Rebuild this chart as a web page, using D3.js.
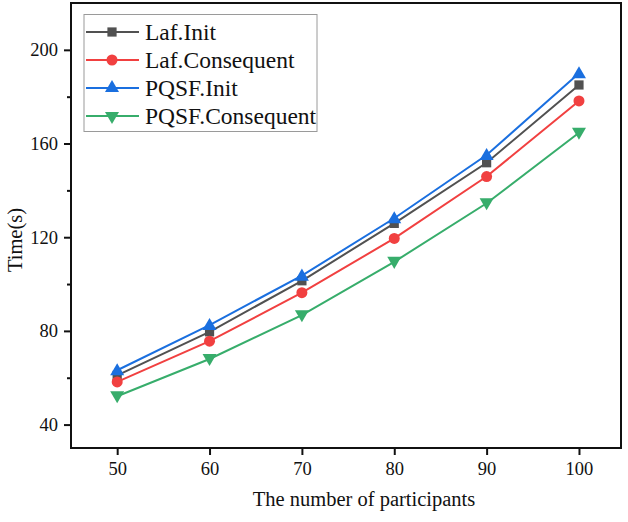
<!DOCTYPE html>
<html><head><meta charset="utf-8">
<script src="https://cdn.jsdelivr.net/npm/d3@7"></script>
<style>body{margin:0;background:#fff}svg text{font-family:"Liberation Serif","Times New Roman",serif;fill:#111}</style>
</head><body><svg id="c" width="628" height="522"></svg>
<script>
const participants = [50, 60, 70, 80, 90, 100];
const lafInit = [61, 79.6, 101.4, 125.9, 151.8, 185];
const lafConsequent = [58.2, 75.6, 96.3, 119.5, 145.9, 178.2];
const pqsfInit = [63.2, 82.5, 103.6, 128.1, 155.1, 190];
const pqsfConsequent = [52.1, 68, 86.7, 109.5, 134.5, 164.6];
const seriesNames = ["Laf.Init", "Laf.Consequent", "PQSF.Init", "PQSF.Consequent"];
const xTicks = [50, 60, 70, 80, 90, 100];
const yTicks = [40, 80, 120, 160, 200];
const yMinorTicks = [60, 100, 140, 180];

const series = [
  {name: seriesNames[0], values: lafInit, color: "#515151", sym: d3.symbolSquare, size: 85, rot: 0},
  {name: seriesNames[1], values: lafConsequent, color: "#F14040", sym: d3.symbolCircle, size: 95, rot: 0},
  {name: seriesNames[2], values: pqsfInit, color: "#1A6FDF", sym: d3.symbolTriangle, size: 85, rot: 0},
  {name: seriesNames[3], values: pqsfConsequent, color: "#37AD6B", sym: d3.symbolTriangle, size: 85, rot: 180}
];

const svg = d3.select("#c");
const L = 71, R = 621, T = 3, B = 448;
const x = d3.scaleLinear().domain([45, 104.55]).range([L, R]);
const y = d3.scaleLinear().domain([30, 220]).range([B, T]);

// axes
const xAxis = svg.append("g").attr("transform", `translate(0,${B})`)
  .call(d3.axisBottom(x).tickValues(xTicks).tickSize(7).tickPadding(7).tickSizeOuter(0));
const yAxis = svg.append("g").attr("transform", `translate(${L},0)`)
  .call(d3.axisLeft(y).tickValues(yTicks).tickSize(7).tickPadding(6).tickSizeOuter(0));
svg.append("g").attr("transform", `translate(${L},0)`)
  .call(d3.axisLeft(y).tickValues(yMinorTicks).tickSize(4).tickFormat("").tickSizeOuter(0))
  .select(".domain").remove();
svg.selectAll(".tick line").attr("stroke", "#111").attr("stroke-width", 2);
svg.selectAll(".domain").remove();
[xAxis, yAxis].forEach(a => a.selectAll("text").attr("font-size", 18.5).style("font-family", '"Liberation Serif", serif').attr("fill", "#111"));

svg.append("rect").attr("x", L).attr("y", T).attr("width", R - L).attr("height", B - T)
  .attr("fill", "none").attr("stroke", "#111").attr("stroke-width", 2);

// lines
const line = d3.line().x((d, i) => x(participants[i])).y(d => y(d));
series.forEach(s => {
  svg.append("path").datum(s.values).attr("d", line).attr("fill", "none")
    .attr("stroke", s.color).attr("stroke-width", 2);
});
series.forEach(s => {
  svg.selectAll(null).data(s.values).enter().append("path")
    .attr("d", d3.symbol().type(s.sym).size(s.size))
    .attr("transform", (d, i) => `translate(${x(participants[i])},${y(d) + (s.rot ? -1 : (s.sym === d3.symbolTriangle ? 1 : 0))}) rotate(${s.rot})`)
    .attr("fill", s.color);
});

// legend
const lg = svg.append("g");
lg.append("rect").attr("x", 84).attr("y", 14.5).attr("width", 233).attr("height", 117)
  .attr("fill", "#fff").attr("stroke", "#9a9a9a").attr("stroke-width", 1);
series.forEach((s, i) => {
  const cy = 32 + i * 28;
  lg.append("line").attr("x1", 86).attr("x2", 139).attr("y1", cy).attr("y2", cy)
    .attr("stroke", s.color).attr("stroke-width", 2);
  lg.append("path").attr("d", d3.symbol().type(s.sym).size(s.size))
    .attr("transform", `translate(112,${cy}) rotate(${s.rot})`).attr("fill", s.color);
  lg.append("text").attr("x", 145).attr("y", cy + 8).attr("font-size", 23.5).text(s.name);
});

// titles
svg.append("text").attr("x", 364).attr("y", 506).attr("text-anchor", "middle")
  .attr("font-size", 20.5).text("The number of participants");
svg.append("text").attr("transform", "translate(22,240) rotate(-90)").attr("text-anchor", "middle")
  .attr("font-size", 20.5).text("Time(s)");
</script></body></html>
